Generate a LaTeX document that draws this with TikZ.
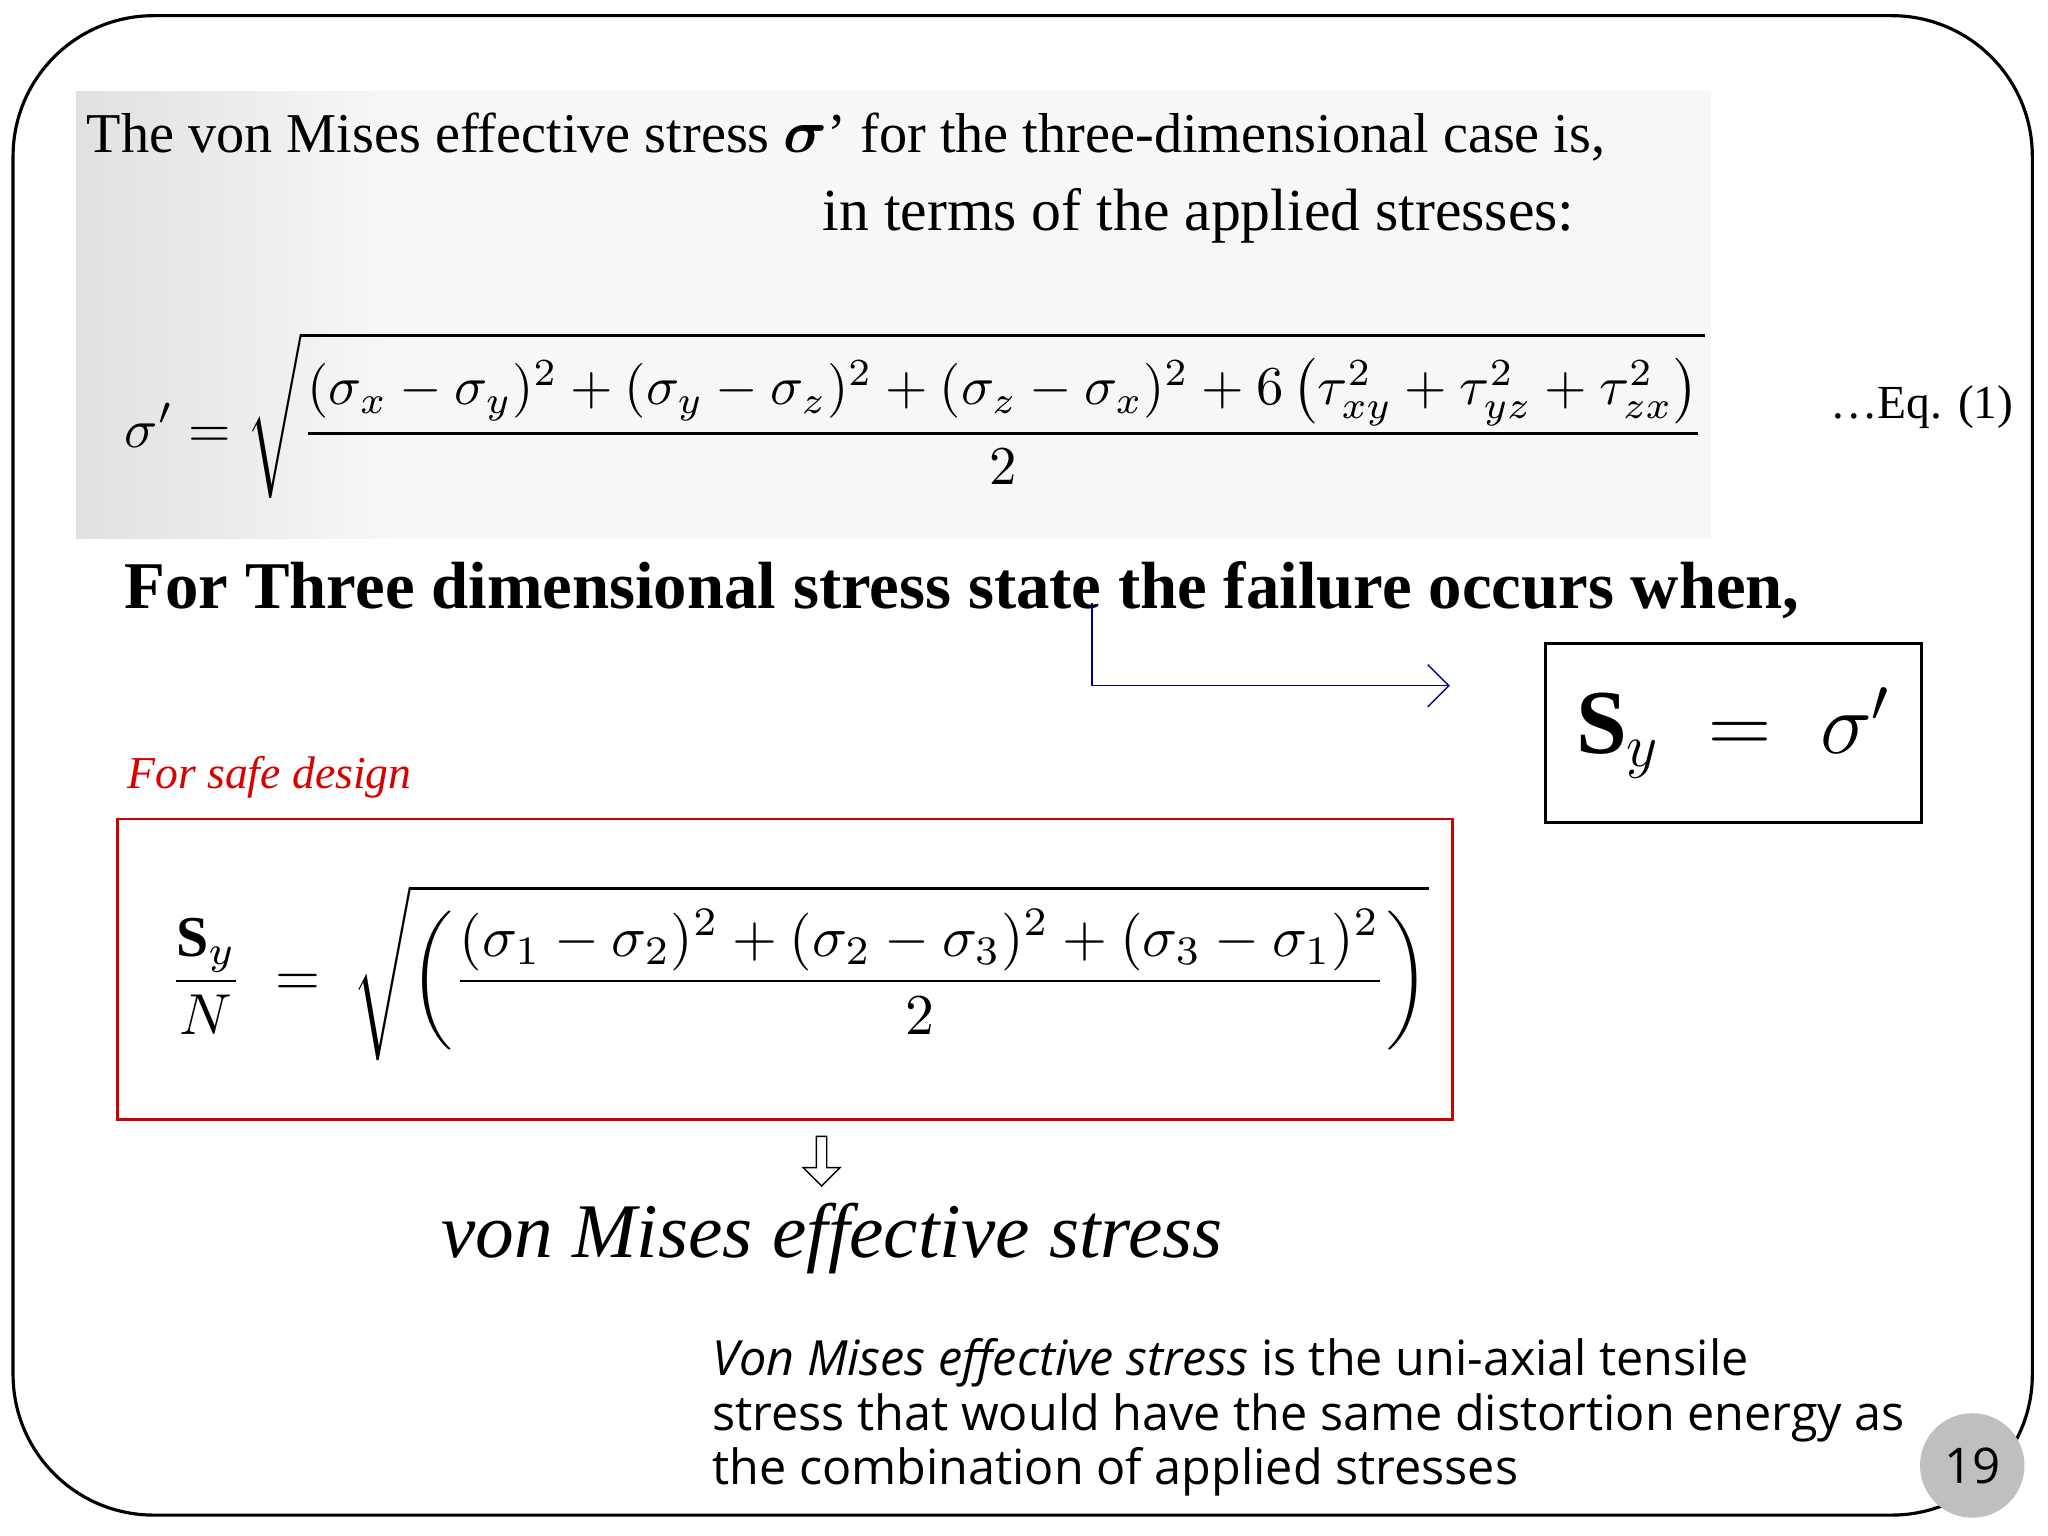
\documentclass[tikz,border=0pt]{standalone}
\usepackage{fontspec}
\usepackage{amsmath}
\usepackage{graphicx}
\setmainfont{Liberation Serif}
\setsansfont{Open Sans}
\usetikzlibrary{arrows.meta,shapes.arrows}
\begin{document}
\begin{tikzpicture}[x={(0.013061cm,0)},y={(0,-0.013061cm)},
  txt/.style={inner sep=0pt,font=\fontsize{16}{19}\selectfont}]
\useasboundingbox (0,0) rectangle (1568,1176);
\fill[white] (0,0) rectangle (1568,1176);
\draw[line width=0.9pt,rounded corners=40] (10,12) rectangle (1556,1160);
\shade[left color=black!12,right color=black!3] (58,70) rectangle (300,412);
\fill[black!3] (300,70) rectangle (1310,412);
\node[txt,anchor=west] (l1) at (66,105) {The von Mises effective stress $\boldsymbol{\sigma}$' for the three-dimensional case is,};
\node[txt,anchor=east,font=\fontsize{17}{20}\selectfont] (l2) at (1206,165) {in terms of the applied stresses:};
\node[inner sep=0pt,anchor=west] (eq) at (95,318)
 {\resizebox{15.8cm}{!}{$\displaystyle\sigma' = \sqrt{\dfrac{(\sigma_x-\sigma_y)^2+(\sigma_y-\sigma_z)^2+(\sigma_z-\sigma_x)^2+6\left(\tau_{xy}^2+\tau_{yz}^2+\tau_{zx}^2\right)}{2}}$}};
\node[txt,anchor=east,font=\fontsize{13.5}{16}\selectfont] (eqn) at (1542,312) {\dots Eq. (1)};
\node[inner sep=0pt,anchor=west,font=\fontsize{19}{23}\selectfont\bfseries] (fail) at (95,452) {For Three dimensional stress state the failure occurs when,};
\coordinate (a0) at (836,462);
\coordinate (a1) at (1110,525);
\draw[blue!60!black,-{Straight Barb[length=6pt]},thin] (a0) |- (a1);
\node[draw,line width=0.8pt,minimum width=288*0.013061cm,minimum height=137*0.013061cm,font=\fontsize{26}{30}\selectfont] (sy) at (1327,561)
 {$\mathbf{S}_y\;=\;\sigma^{\prime}$};
\node[inner sep=0pt,anchor=west,text=red!85!black,font=\fontsize{13}{16}\selectfont\itshape] (safe) at (97,595) {For safe design};
\node[draw=red!80!black,line width=0.8pt,minimum width=1022*0.013061cm,minimum height=230*0.013061cm] (rb) at (601,742) {};
\node[inner sep=0pt] (f2) at (612,745)
 {\resizebox{12.6cm}{!}{$\displaystyle\dfrac{\mathbf{S}_y}{N}\;=\;\sqrt{\left(\dfrac{(\sigma_1-\sigma_2)^2+(\sigma_2-\sigma_3)^2+(\sigma_3-\sigma_1)^2}{2}\right)}$}};
\node[single arrow,draw,shape border rotate=270,minimum height=38*0.013061cm,minimum width=28*0.013061cm,single arrow head extend=3pt,inner sep=1pt] (dn) at (629,887) {};
\node[inner sep=0pt,font=\fontsize{22}{26}\selectfont\itshape] (vm) at (637,948) {von Mises effective stress};
\node[inner sep=0pt,anchor=north west,align=left,font=\sffamily\fontsize{13.8}{15.6}\selectfont] (para) at (545,1024)
 {\textit{Von Mises effective stress} is the uni-axial tensile\\stress that would have the same distortion energy as\\the combination of applied stresses};
\node[circle,fill=black!25,minimum size=80*0.013061cm,font=\sffamily\fontsize{14}{16}\selectfont] (pg) at (1510,1122) {19};
\end{tikzpicture}
\end{document}
